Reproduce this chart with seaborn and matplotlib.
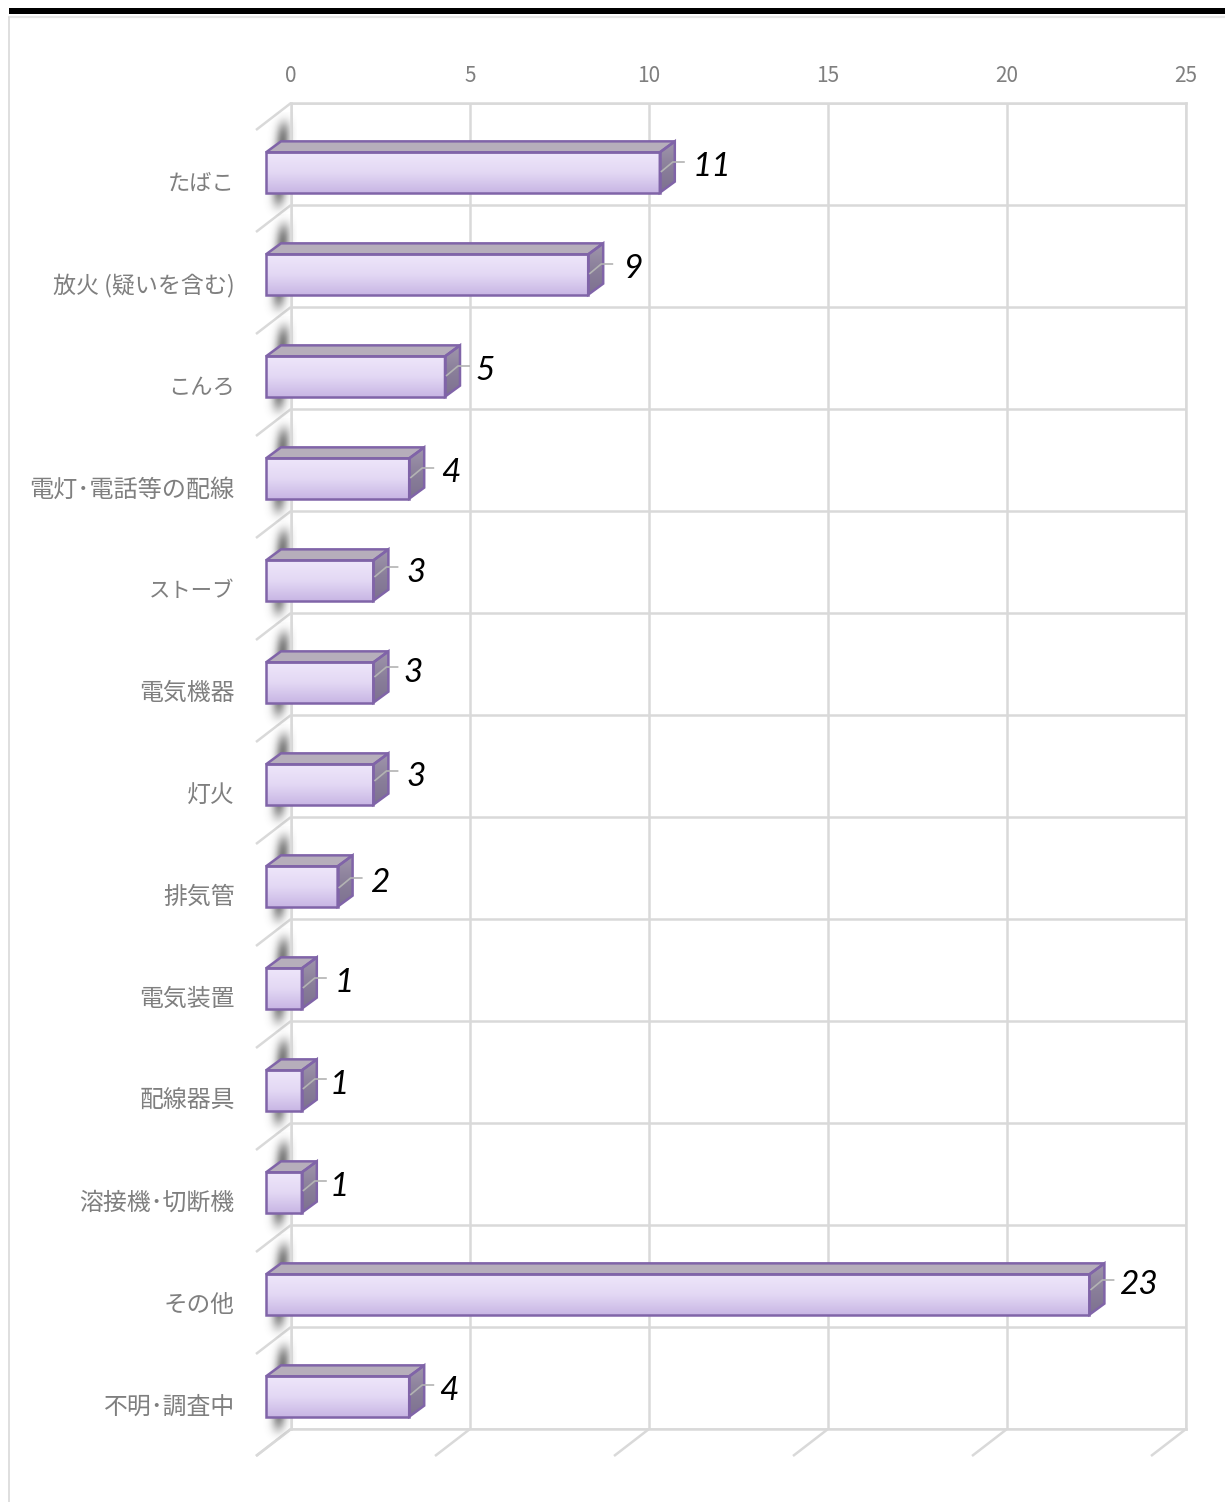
import numpy as np
import pandas as pd
import matplotlib.pyplot as plt
import seaborn as sns
from matplotlib.patches import Polygon, Rectangle
from matplotlib.lines import Line2D
from matplotlib.transforms import ScaledTranslation

# Data
categories = ["たばこ", "放火 (疑いを含む)", "こんろ", "電灯･電話等の配線", "ストーブ", "電気機器", "灯火",
              "排気管", "電気装置", "配線器具", "溶接機･切断機", "その他", "不明･調査中"]
values = [11, 9, 5, 4, 3, 3, 3, 2, 1, 1, 1, 23, 4]
x_ticks = [0, 5, 10, 15, 20, 25]

# value label nudges in pixels, from the end of the front face
label_dx = [52, 45, 40, 42, 43, 40, 43, 42, 42, 37, 37, 49, 40]
label_dy = [-8, -8, -8, -8, -11, -13, -11, -6, -8, -9, -9, -12, -9]
# kana heavy labels run narrower in the original
cat_sizes = [16, 16.6, 16, 17.4, 15.4, 17.2, 17.2, 17.2, 17.2, 17.2, 17.2, 17, 17.2]

W, H = 1225, 1502
sns.set_theme(style="white")
plt.rcParams['font.family'] = ['Noto Sans CJK JP', 'DejaVu Sans']

GRID = "#d9d9d9"
EDGE = "#8064a8"
TEXT = "#7f7f7f"

fig = plt.figure(figsize=(W / 100, H / 100), dpi=100, facecolor="white")
ax = fig.add_axes([291 / W, 1 - 1429 / H, (1186 - 291) / W, (1429 - 103) / H])

df = pd.DataFrame({"cat": categories, "n": values})
sns.barplot(data=df, y="cat", x="n", order=categories, orient="h", width=0.395,
            color="white", saturation=1, ax=ax, zorder=5)

ax.set_xlim(0, 25)
ax.set_ylim(len(categories) - 0.5, -0.5)
ax.set_xlabel("")
ax.set_ylabel("")
px_x = 25 / (1186 - 291)
px_y = len(categories) / (1429 - 103)

# wall grid
ax.xaxis.tick_top()
ax.set_xticks(x_ticks)
ax.set_yticks(np.arange(-0.5, len(categories)), minor=True)
ax.set_axisbelow(True)
ax.grid(which="major", axis="x", color=GRID, lw=1.8)
ax.grid(which="minor", axis="y", color=GRID, lw=1.8)
ax.grid(which="major", axis="y", visible=False)
ax.tick_params(which="both", length=0)
ax.tick_params(axis="x", labelsize=15, labelcolor=TEXT, pad=11.5)
ax.tick_params(axis="y", labelsize=17.2, labelcolor=TEXT, pad=40.5)
for s in ax.spines.values():
    s.set_color(GRID)
    s.set_linewidth(1.8)

# category labels sit lower than the band centre
shift = ScaledTranslation(0, -26.5 / 100, fig.dpi_scale_trans)
for lab, size in zip(ax.get_yticklabels(), cat_sizes):
    lab.set_transform(lab.get_transform() + shift)
    lab.set_fontsize(size)

# floor and side wall diagonals
for b in np.arange(-0.5, len(categories)):
    ax.plot([0, -35 * px_x], [b, b + 27 * px_y], color=GRID, lw=1.8, clip_on=False, zorder=1, solid_capstyle="butt")
for t in x_ticks:
    ax.plot([t, t - 35 * px_x], [len(categories) - 0.5, len(categories) - 0.5 + 27 * px_y],
            color=GRID, lw=1.8, clip_on=False, zorder=1, solid_capstyle="butt")

# blurred shadow behind each bar
gy, gx = np.mgrid[0:1:120j, 0:1:60j]
cx = 0.66 - 0.2 * gy
sh = np.exp(-((gx - cx) / 0.2) ** 2) * np.exp(-((gy - 0.5) / 0.4) ** 6) * 0.8
rgba = np.zeros(sh.shape + (4,))
rgba[..., :3] = 0.33
rgba[..., 3] = sh

front_dx = -25 * px_x
front_dy = 18.5 * px_y
depth_x = 15 * px_x
depth_y = 11 * px_y
front_grad = np.linspace(0, 1, 64).reshape(-1, 1)
front_cmap = sns.blend_palette(["#eee6fa", "#e3d8f4", "#c8b6e4"], as_cmap=True)
side_cmap = sns.blend_palette(["#a096ac", "#8a7f9a", "#7d7190"], as_cmap=True)

for i, (bar, v) in enumerate(zip(ax.patches, values)):
    y0 = bar.get_y() + front_dy
    y1 = y0 + bar.get_height()
    x0 = front_dx
    x1 = x0 + v

    ax.imshow(rgba, extent=(-30 * px_x, 6 * px_x, i + 62 * px_y, i - 42 * px_y), aspect="auto",
              zorder=1.5, clip_on=False, interpolation="bilinear")

    bar.set_x(x0)
    bar.set_y(y0)
    bar.set_facecolor("none")
    bar.set_edgecolor(EDGE)
    bar.set_linewidth(1.8)
    bar.set_clip_on(False)

    ax.imshow(front_grad, extent=(x0, x1, y1, y0), aspect="auto", cmap=front_cmap, zorder=3, clip_on=False)

    top = Polygon([(x0, y0), (x1, y0), (x1 + depth_x, y0 - depth_y), (x0 + depth_x, y0 - depth_y)],
                  closed=True, fc="#b6aebb", ec=EDGE, lw=1.8, clip_on=False, zorder=4)
    ax.add_patch(top)

    side = Polygon([(x1, y0), (x1 + depth_x, y0 - depth_y), (x1 + depth_x, y1 - depth_y), (x1, y1)],
                   closed=True, fc="none", ec=EDGE, lw=1.8, clip_on=False, zorder=4)
    ax.add_patch(side)
    side_im = ax.imshow(front_grad, extent=(x1, x1 + depth_x, y1, y0 - depth_y), aspect="auto", cmap=side_cmap,
                        zorder=3)
    side_im.set_clip_on(True)
    side_im.set_clip_path(side)

    # leader line + value label
    yc = (y0 + y1) / 2
    ly = yc + (label_dy[i] - 2.5) * px_y
    ax.plot([x1 + 1 * px_x, x1 + 13 * px_x, x1 + 25 * px_x], [ly + 10 * px_y, ly, ly], color="#b3b3b3", lw=1.2,
            clip_on=False, zorder=6, solid_capstyle="butt")
    ax.annotate(str(v), xy=(x1, yc), xytext=(label_dx[i] * 0.72, -label_dy[i] * 0.72), textcoords="offset points",
                ha="center", va="center_baseline", fontsize=24, fontstyle="italic", family="Lato", color="black",
                annotation_clip=False, zorder=7)

ax.set_xlim(0, 25)
ax.set_ylim(len(categories) - 0.5, -0.5)

# surrounding page frame
fig.add_artist(Rectangle((9 / W, 1 - 14 / H), (W - 9) / W, 6 / H, transform=fig.transFigure, fc="black", ec="none"))
fig.add_artist(Line2D([8.5 / W, 1], [1 - 17 / H, 1 - 17 / H], transform=fig.transFigure, color="#e6e6e6", lw=1.6))
fig.add_artist(Line2D([8.5 / W, 8.5 / W], [1 - 17 / H, 0], transform=fig.transFigure, color="#d9d9d9", lw=1.2))

fig.savefig("out.png", dpi=100)
